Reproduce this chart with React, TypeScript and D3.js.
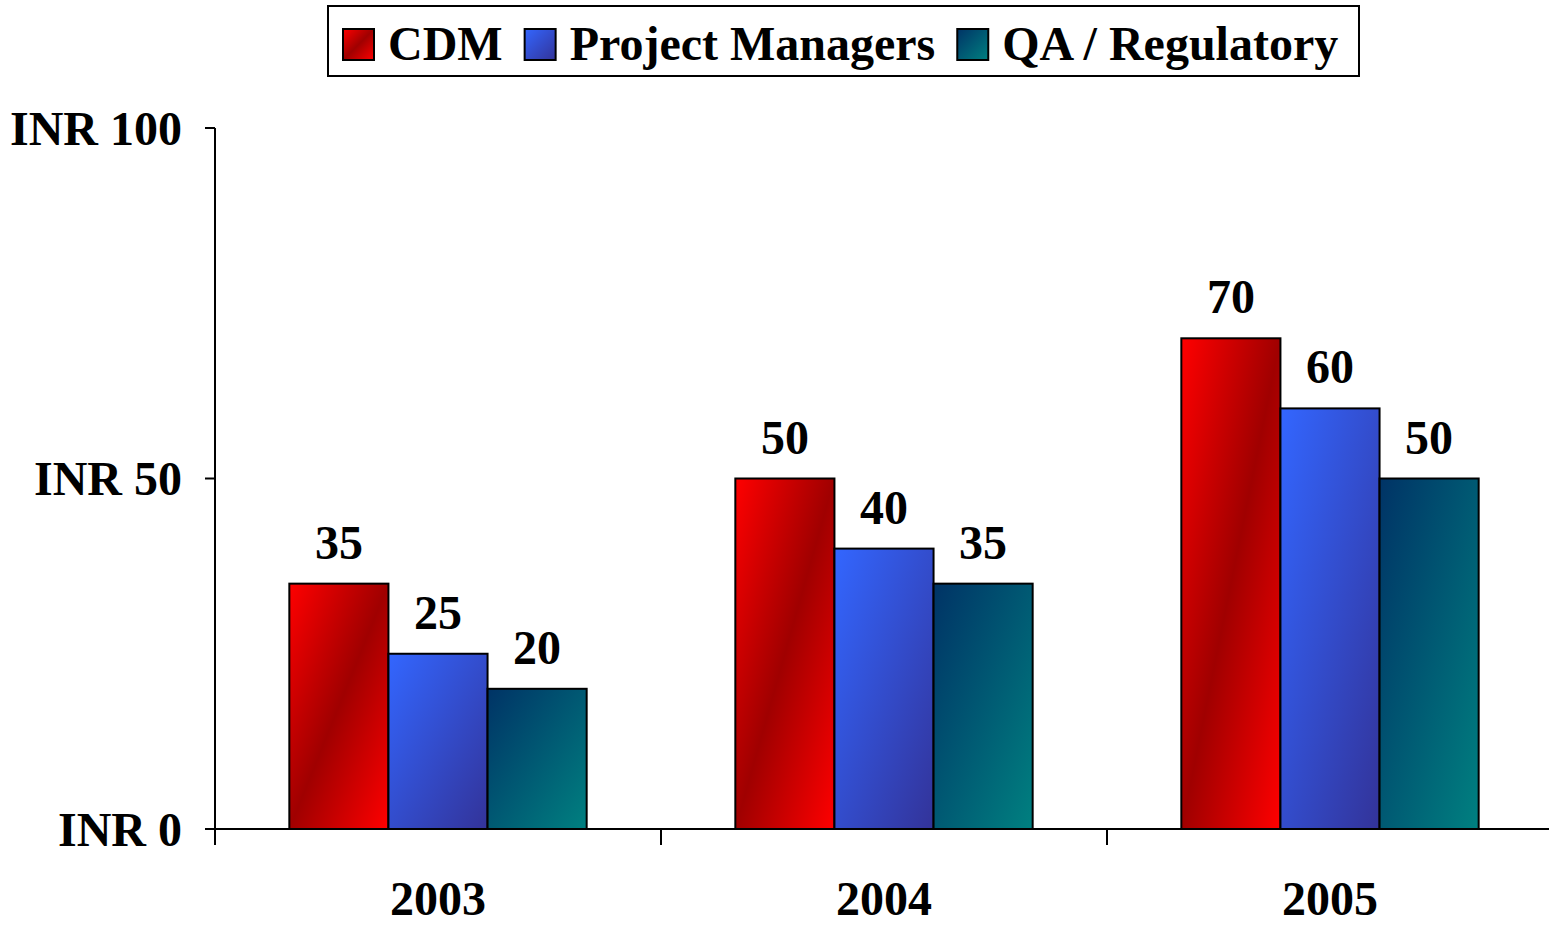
import React, { useRef, useEffect } from "react";
import * as d3 from "d3";

const years = ["2003", "2004", "2005"];
const seriesNames = ["CDM", "Project Managers", "QA / Regulatory"];
const cdm = [35, 50, 70];
const projectManagers = [25, 40, 60];
const qaRegulatory = [20, 35, 50];
const yTicks = [0, 50, 100];

const W = 1549;
const H = 926;
const FONT = "'Liberation Serif', 'Times New Roman', serif";

// gradient stops per series
const gradients = [
  { id: "g-cdm", stops: [["0%", "#ff0000"], ["50%", "#a00000"], ["100%", "#ff0000"]] },
  { id: "g-pm", stops: [["0%", "#3366ff"], ["100%", "#333399"]] },
  { id: "g-qa", stops: [["0%", "#003366"], ["100%", "#008080"]] },
];

const App = () => {
  const ref = useRef<SVGSVGElement>(null);

  useEffect(() => {
    const svg = d3.select(ref.current);
    svg.selectAll("*").remove();

    const values = [cdm, projectManagers, qaRegulatory];
    const margin = { left: 215, right: -4, top: 128, bottom: 97 };

    const x0 = d3.scaleBand().domain(years).range([margin.left, W - margin.right]).padding(0);
    const x1 = d3.scaleBand().domain(seriesNames).range([0, x0.bandwidth()]).paddingInner(0).paddingOuter(0.75);
    const y = d3.scaleLinear().domain([0, 100]).range([H - margin.bottom, margin.top]);

    const defs = svg.append("defs");
    gradients.forEach((g) => {
      const lg = defs.append("linearGradient")
        .attr("id", g.id)
        .attr("x1", 0).attr("y1", 0).attr("x2", 1).attr("y2", 1);
      g.stops.forEach(([o, c]) => lg.append("stop").attr("offset", o).attr("stop-color", c));
    });

    // bars
    const groups = svg.append("g").selectAll("g")
      .data(years)
      .join("g")
      .attr("transform", (d) => `translate(${x0(d)},0)`);

    groups.selectAll("rect")
      .data((d, i) => seriesNames.map((s, k) => ({ s, k, v: values[k][i] })))
      .join("rect")
      .attr("x", (d) => x1(d.s)!)
      .attr("y", (d) => y(d.v))
      .attr("width", x1.bandwidth())
      .attr("height", (d) => y(0) - y(d.v))
      .attr("fill", (d) => `url(#${gradients[d.k].id})`)
      .attr("stroke", "#000")
      .attr("stroke-width", 2);

    groups.selectAll("text")
      .data((d, i) => seriesNames.map((s, k) => ({ s, k, v: values[k][i] })))
      .join("text")
      .attr("x", (d) => x1(d.s)! + x1.bandwidth() / 2)
      .attr("y", (d) => y(d.v) - 25)
      .attr("text-anchor", "middle")
      .attr("font-family", FONT)
      .attr("font-weight", "bold")
      .attr("font-size", 48)
      .text((d) => d.v);

    // y axis
    const yAxis = svg.append("g");
    yAxis.append("line")
      .attr("x1", margin.left).attr("x2", margin.left)
      .attr("y1", y(100)).attr("y2", y(0) + 16)
      .attr("stroke", "#000").attr("stroke-width", 2);
    yAxis.selectAll("line.tick")
      .data(yTicks)
      .join("line")
      .attr("class", "tick")
      .attr("x1", margin.left - 10).attr("x2", margin.left)
      .attr("y1", (d) => y(d)).attr("y2", (d) => y(d))
      .attr("stroke", "#000").attr("stroke-width", 2);
    yAxis.selectAll("text")
      .data(yTicks)
      .join("text")
      .attr("x", 182)
      .attr("y", (d) => y(d))
      .attr("dy", "0.35em")
      .attr("text-anchor", "end")
      .attr("font-family", FONT)
      .attr("font-weight", "bold")
      .attr("font-size", 48)
      .text((d) => `INR ${d}`);

    // x axis
    const xAxis = svg.append("g");
    xAxis.append("line")
      .attr("x1", margin.left).attr("x2", W)
      .attr("y1", y(0)).attr("y2", y(0))
      .attr("stroke", "#000").attr("stroke-width", 2);
    xAxis.selectAll("line.tick")
      .data(years.slice(1))
      .join("line")
      .attr("class", "tick")
      .attr("x1", (d) => x0(d)!).attr("x2", (d) => x0(d)!)
      .attr("y1", y(0)).attr("y2", y(0) + 16)
      .attr("stroke", "#000").attr("stroke-width", 2);
    xAxis.selectAll("text")
      .data(years)
      .join("text")
      .attr("x", (d) => x0(d)! + x0.bandwidth() / 2)
      .attr("y", 915)
      .attr("text-anchor", "middle")
      .attr("font-family", FONT)
      .attr("font-weight", "bold")
      .attr("font-size", 48)
      .text((d) => d);

    // legend
    const legend = svg.append("g");
    legend.append("rect")
      .attr("x", 328).attr("y", 6).attr("width", 1031).attr("height", 70)
      .attr("fill", "#fff").attr("stroke", "#000").attr("stroke-width", 2);
    let lx = 343;
    seriesNames.forEach((s, k) => {
      legend.append("rect")
        .attr("x", lx).attr("y", 29).attr("width", 31).attr("height", 31)
        .attr("fill", `url(#${gradients[k].id})`)
        .attr("stroke", "#000").attr("stroke-width", 2);
      const t = legend.append("text")
        .attr("x", lx + 45).attr("y", 60)
        .attr("font-family", FONT)
        .attr("font-weight", "bold")
        .attr("font-size", 48)
        .text(s);
      const w = (t.node() as SVGTextElement).getComputedTextLength();
      lx += 45 + w + 22;
    });
  }, []);

  return (
    <svg
      ref={ref}
      width={W}
      height={H}
      style={{ position: "absolute", left: 0, top: 0, background: "#fff" }}
    />
  );
};

export default App;
